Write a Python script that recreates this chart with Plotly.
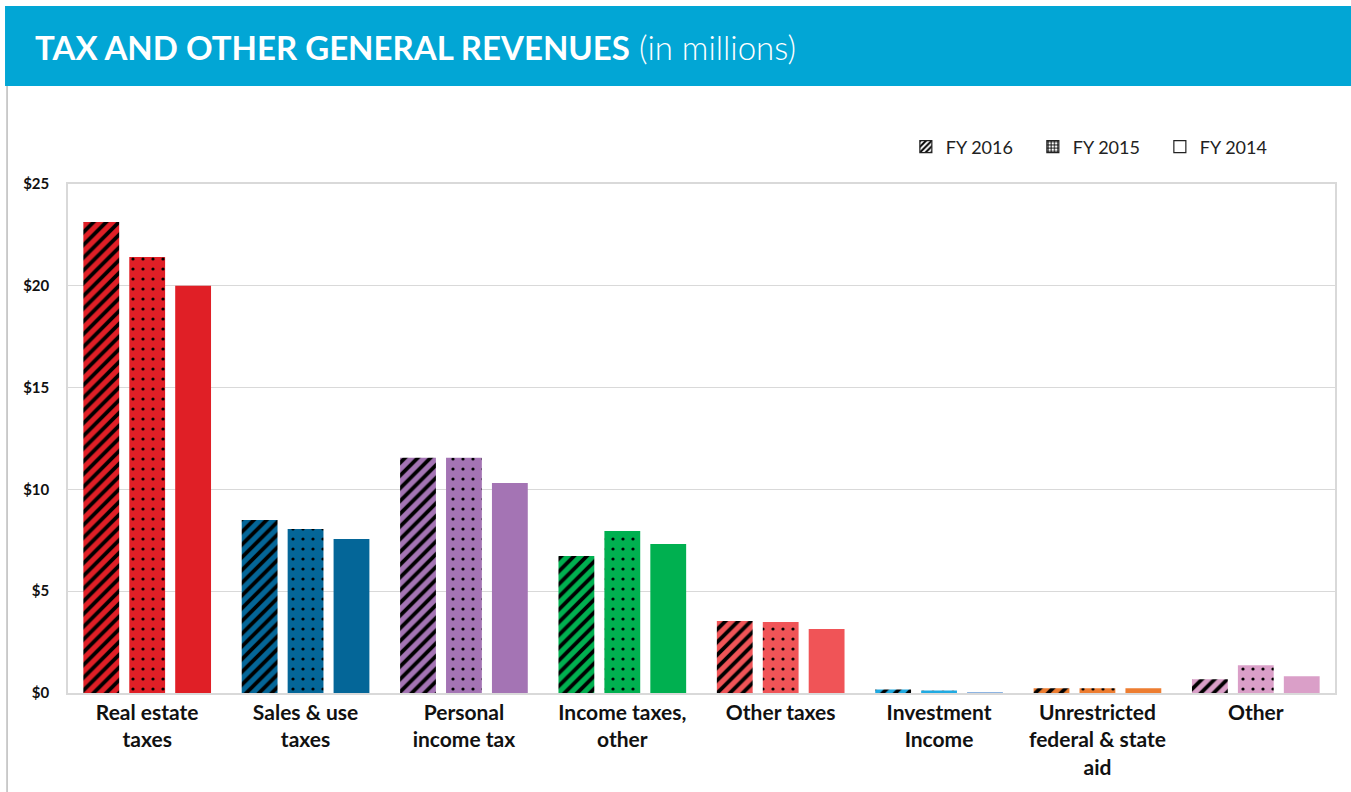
import plotly.graph_objects as go

# Revenue categories (x-axis labels, wrapped over lines)
categories = [
    "Real estate<br>taxes",
    "Sales & use<br>taxes",
    "Personal<br>income tax",
    "Income taxes,<br>other",
    "Other taxes",
    "Investment<br>Income",
    "Unrestricted<br>federal & state<br>aid",
    "Other",
]

# Values in millions of dollars
fy2016 = [23.13, 8.50, 11.55, 6.73, 3.54, 0.17, 0.23, 0.67]
fy2015 = [21.41, 8.06, 11.55, 7.96, 3.49, 0.12, 0.23, 1.36]
fy2014 = [20.00, 7.56, 10.31, 7.32, 3.14, 0.04, 0.23, 0.82]

# Category colours per fiscal year
colors_2016 = ["#E01F26", "#046698", "#A474B4", "#00B050", "#F05457", "#1FAAE2", "#ED7D31", "#DA9FC8"]
colors_2015 = ["#E01F26", "#046698", "#A474B4", "#00B050", "#F05457", "#1FAAE2", "#ED7D31", "#DA9FC8"]
colors_2014 = ["#E01F26", "#046698", "#A474B4", "#00B050", "#F05457", "#8DB4E2", "#ED7D31", "#DA9FC8"]

y_ticks = [0, 5, 10, 15, 20, 25]
y_tick_labels = ["$0", "$5", "$10", "$15", "$20", "$25"]
legend_names = ["FY 2016", "FY 2015", "FY 2014"]

FONT = "Lato"
TEXT = "#111111"

# Hatch overlays per fiscal year (black pattern on top of the category colour)
year_patterns = [
    dict(shape="/", fillmode="overlay", fgcolor="black", fgopacity=1, size=9, solidity=0.42),
    dict(shape=".", fillmode="overlay", fgcolor="black", fgopacity=1, size=10, solidity=0.08),
    None,
]

fig = go.Figure()

# One trace per category and year so that each bar carries its own colour
# underneath a shared black hatch; offsetgroup keeps the years side by side.
for name, values, colors, pat in zip(legend_names, [fy2016, fy2015, fy2014],
                                     [colors_2016, colors_2015, colors_2014], year_patterns):
    for cat, val, col in zip(categories, values, colors):
        marker = dict(color=col, line=dict(width=0))
        if pat is not None:
            marker["pattern"] = pat
        fig.add_trace(go.Bar(
            x=[cat], y=[val], name=name, offsetgroup=name, legendgroup=name,
            showlegend=False, marker=marker,
        ))

# Black-and-white legend keys on a hidden auxiliary axis pair
legend_patterns = [
    dict(shape="/", fillmode="overlay", fgcolor="black", fgopacity=1, size=5, solidity=0.5),
    dict(shape="+", fillmode="overlay", fgcolor="black", fgopacity=1, size=4, solidity=0.5),
    dict(shape=""),
]
for name, pat in zip(legend_names, legend_patterns):
    fig.add_trace(go.Bar(
        x=[categories[0]], y=[None], name=name, xaxis="x2", yaxis="y2",
        legendgroup=name,
        marker=dict(color="white", line=dict(color="#222222", width=1.2), pattern=pat),
        showlegend=True, hoverinfo="skip",
    ))

fig.update_layout(
    width=1351, height=792,
    margin=dict(l=68, r=16, t=184, b=99),
    paper_bgcolor="white", plot_bgcolor="white",
    barmode="group", bargap=0.13, bargroupgap=0.22,
    font=dict(family=FONT, color=TEXT),
    xaxis=dict(
        type="category", categoryorder="array", categoryarray=categories,
        showgrid=False,
        showline=True, linecolor="#D9D9D9", linewidth=1.5, mirror=True,
        tickfont=dict(family=FONT, size=21, color=TEXT, weight="bold"),
        ticks="", ticklabelstandoff=0,
    ),
    yaxis=dict(
        range=[0, 25], tickmode="array", tickvals=y_ticks, ticktext=y_tick_labels,
        showgrid=True, gridcolor="#D9D9D9", gridwidth=1.2,
        showline=True, linecolor="#D9D9D9", linewidth=1.5, mirror=True,
        zeroline=False,
        tickfont=dict(family=FONT, size=15, color=TEXT, weight="bold"),
        ticks="", ticklabelstandoff=14,
    ),
    xaxis2=dict(domain=[0, 0.01], anchor="y2", visible=False, type="category"),
    yaxis2=dict(domain=[0, 0.01], anchor="x2", visible=False),
    legend=dict(
        orientation="h", x=0.962, xanchor="right", y=1.073, yanchor="middle",
        font=dict(family=FONT, size=18, color="#222222"),
        entrywidth=82, itemwidth=30, bgcolor="rgba(0,0,0,0)",
        groupclick="toggleitem", tracegroupgap=0,
    ),
    shapes=[
        # header banner
        dict(type="rect", xref="paper", yref="paper",
             x0=-0.0497, x1=1.02, y0=1.1925, y1=1.3497,
             fillcolor="#02A6D5", line=dict(width=0), layer="below"),
        # left frame line
        dict(type="line", xref="paper", yref="paper",
             x0=-0.0481, x1=-0.0481, y0=-0.2, y1=1.1925,
             line=dict(color="#BBBBBB", width=1.5)),
    ],
    annotations=[
        dict(xref="paper", yref="paper", x=-0.0276, y=1.269,
             xanchor="left", yanchor="middle", showarrow=False,
             text="<b>TAX AND OTHER GENERAL REVENUES</b> (in millions)",
             font=dict(family=FONT, size=33, color="white", weight=300)),
    ],
)

fig.write_html("out.html")
